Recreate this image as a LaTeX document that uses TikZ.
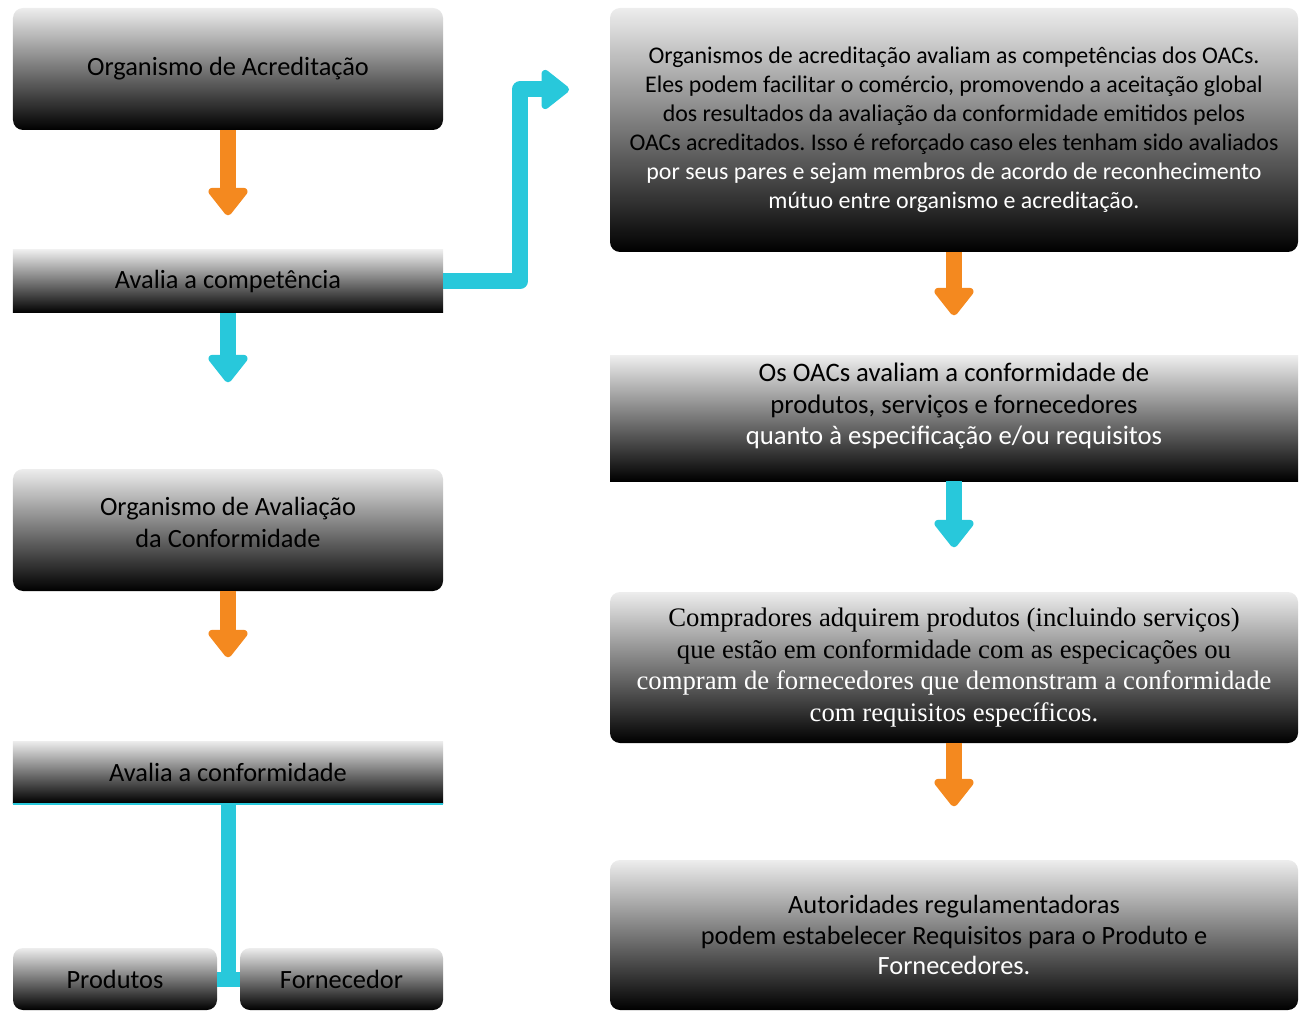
\documentclass[tikz,border=0pt]{standalone}
\usepackage{fontspec}
\setmainfont{Carlito}
\newfontfamily\timesfont{Liberation Serif}
\usepackage{tikz}
\usetikzlibrary{arrows.meta}
\frenchspacing

\definecolor{accorange}{RGB}{244,137,31}
\definecolor{acccyan}{RGB}{40,200,219}

\tikzset{
	gradbox/.style={top color=black!7, bottom color=black, inner sep=0pt, font=\fontsize{15}{18}\selectfont},
	roundbox/.style={gradbox, rounded corners=0.2cm},
	orangeflow/.style={accorange, line width=0.32cm, -{Triangle[width=0.9cm,length=0.6cm,round,line width=0.18cm]}},
	cyanflow/.style={acccyan, line width=0.32cm, line join=round, -{Triangle[width=0.9cm,length=0.6cm,round,line width=0.18cm]}}
}

\begin{document}
\begin{tikzpicture}[every text node part/.style={align=center}]
		
		\useasboundingbox (0,0) rectangle (26.06,20.22);
		
		\node[roundbox, minimum width=8.6cm, minimum height=2.44cm] (acred) at (4.56,18.84) {Organismo de Acreditação};
		
		\node[gradbox, minimum width=8.6cm, minimum height=1.26cm] (comp) at (4.56,14.59) {Avalia a competência};
		
		\node[roundbox, minimum width=8.6cm, minimum height=2.44cm] (oac) at (4.56,9.62) {Organismo de Avaliação\\ da Conformidade\\[-9pt]\mbox{}};
		
		\node[gradbox, minimum width=8.6cm, minimum height=1.24cm] (conf) at (4.56,4.78) {Avalia a conformidade};
		
		\node[roundbox, minimum width=4.08cm, minimum height=1.24cm] (prod) at (2.30,0.64) {Produtos};
		
		\node[roundbox, minimum width=4.06cm, minimum height=1.24cm] (forn) at (6.83,0.64) {Fornecedor};
		
		\node[roundbox, minimum width=13.76cm, minimum height=4.88cm, font=\fontsize{13.6}{16.45}\selectfont] (orgtext) at (19.08,17.62) {Organismos de acreditação avaliam as competências dos OACs.\\ Eles podem facilitar o comércio, promovendo a aceitação global\\ dos resultados da avaliação da conformidade emitidos pelos\\ OACs acreditados. Isso é reforçado caso eles tenham sido avaliados\\ \textcolor{white}{por seus pares e sejam membros de acordo de reconhecimento}\\ \textcolor{white}{mútuo entre organismo e acreditação.}};
		
		\node[gradbox, minimum width=13.76cm, minimum height=2.5cm, font=\fontsize{15.2}{18.1}\selectfont] (oactext) at (19.08,11.85) {Os OACs avaliam a conformidade de\\ produtos, serviços e fornecedores\\ \textcolor{white}{quanto à especificação e/ou requisitos}\\[-1.5pt]\mbox{}};
		
		\node[roundbox, minimum width=13.76cm, minimum height=3.02cm, font=\timesfont\fontsize{15.2}{18.1}\selectfont] (buyers) at (19.08,6.87) {Compradores adquirem produtos (incluindo serviços)\\ que estão em conformidade com as especicações ou\\ \textcolor{white}{compram de fornecedores que demonstram a conformidade}\\ \textcolor{white}{com requisitos específicos.}};
		
		\node[roundbox, minimum width=13.76cm, minimum height=3.0cm, font=\fontsize{15}{17.6}\selectfont] (auth) at (19.08,1.52) {Autoridades regulamentadoras\\ podem estabelecer Requisitos para o Produto e\\ \textcolor{white}{Fornecedores.}};
		
		\coordinate (bend) at (10.40,18.43);
		\coordinate (bendtip) at (11.38,18.43);
		
		\draw[orangeflow] (acred.south) -- ++(0,-1.70);
		
		\draw[cyanflow] (comp.south) -- ++(0,-1.38);
		
		\draw[cyanflow] (comp.east) -| (bend) -- (bendtip);
		
		\draw[orangeflow] (oac.south) -- ++(0,-1.32);
		
		\draw[acccyan, line width=0.04cm] ([yshift=-0.02cm]conf.south west) -- ([yshift=-0.02cm]conf.south east);
		
		\draw[acccyan, line width=0.3cm] (conf.south) -- ([yshift=-0.15cm]conf.south |- prod.east);
		
		\draw[acccyan, line width=0.3cm] (prod.east) -- (forn.west);
		
		\draw[orangeflow] (orgtext.south) -- ++(0,-1.26);
		
		\draw[cyanflow] (oactext.south) -- ++(0,-1.32);
		
		\draw[orangeflow] (buyers.south) -- ++(0,-1.26);
		
		\end{tikzpicture}
\end{document}
